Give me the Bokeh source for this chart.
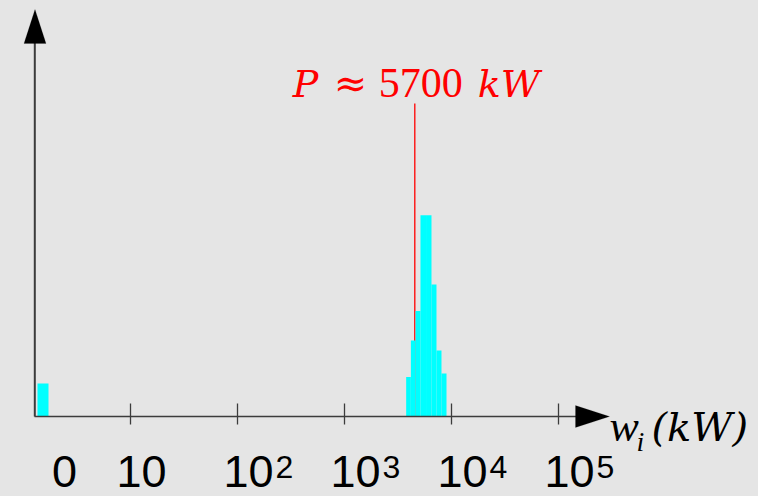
import numpy as np
from bokeh.plotting import figure
from bokeh.core.properties import value
from bokeh.models import (Range1d, FixedTicker, ColumnDataSource, LabelSet,
                          PolyAnnotation)
from bokeh.embed import file_html
from bokeh.resources import INLINE

# ---------------- data ----------------
BIN_EDGES_KW = [3770, 4170, 4610, 5130, 5780, 6500, 7240, 8060, 8980]
BIN_COUNTS = [12, 23, 32, 61, 61, 40, 20, 13]
ZERO_COUNT = [10]
P_LINE_KW = 4540
P_TEXT = "5700"
TICK_DECADES = [1, 2, 3, 4, 5]
TICK_MAIN = ["10", "10", "10", "10", "10"]
TICK_EXP = ["", "2", "3", "4", "5"]
ZERO_LABEL = "0"
X_LABEL_VAR = "w"
X_LABEL_SUB = "i"
X_LABEL_UNIT = "(kW)"

# ---------------- layout ----------------
W, H = 758, 496
B = 8               # bottom panel taken by the (fixed-location) axis
BG = "#e5e5e5"
AXC = "#3c3c3c"
RED = "#ff0000"
PX_DEC = 107.0      # pixels per decade
X0_REF = 23.0       # canvas pixel of log10(w) = 0
AX_Y_REF = 416.0    # canvas pixel of count = 0
PX_CNT = 3.3        # pixels per count


def ux(ref_x):
    return (ref_x - X0_REF) / PX_DEC


def uy(ref_y):
    return (AX_Y_REF - ref_y) / PX_CNT


p = figure(width=W, height=H, output_backend="svg", toolbar_location=None,
           x_range=Range1d(ux(0), ux(W)),
           y_range=Range1d(uy(H - B), uy(0)),
           y_axis_location=None,
           min_border_left=0, min_border_right=0, min_border_top=0,
           min_border_bottom=B)
p.background_fill_color = BG
p.border_fill_color = BG
p.outline_line_color = None
p.grid.visible = False

# x axis drawn at count = 0, ticks only, line bounded to the arrow
ax = p.xaxis[0]
ax.fixed_location = 0
ax.ticker = FixedTicker(ticks=TICK_DECADES, minor_ticks=[])
ax.major_label_overrides = {t: "" for t in TICK_DECADES}
ax.major_label_text_font_size = "0px"
ax.major_label_standoff = 0
ax.bounds = (ux(34.3), ux(576))
ax.axis_line_color = AXC
ax.axis_line_width = 1.5
ax.major_tick_in = 13
ax.major_tick_out = 8
ax.major_tick_line_color = AXC
ax.major_tick_line_width = 1.3
ax.minor_tick_line_color = None

# y axis line
yx = ux(34.3)
p.segment(x0=[yx], y0=[0], x1=[yx], y1=[uy(42)], line_color=AXC, line_width=2)

# red marker line (behind bars)
px = np.log10(P_LINE_KW)
p.segment(x0=[px], y0=[0], x1=[px], y1=[uy(103)], line_color=RED, line_width=1.3)

# histogram bars
edges = np.array(BIN_EDGES_KW, dtype=float)
src = ColumnDataSource(dict(left=np.log10(edges[:-1]), right=np.log10(edges[1:]),
                            top=BIN_COUNTS))
p.quad(left="left", right="right", bottom=0, top="top", source=src,
       fill_color="#00ffff", line_color=None)
# zero-value bar
p.quad(left=[ux(37)], right=[ux(48)], bottom=[0], top=ZERO_COUNT,
       fill_color="#00ffff", line_color=None)

# arrow heads
p.add_layout(PolyAnnotation(xs=[ux(575), ux(609), ux(575)], ys=[uy(405), uy(416), uy(427)],
                            fill_color="black", fill_alpha=1, line_color="black", line_width=0.5))
p.add_layout(PolyAnnotation(xs=[ux(23.5), ux(34.5), ux(45.5)], ys=[uy(43), uy(9), uy(43)],
                            fill_color="black", fill_alpha=1, line_color="black", line_width=0.5))

# tick labels
lab_src = ColumnDataSource(dict(x=[ux(65.4)] + TICK_DECADES, text=[ZERO_LABEL] + TICK_MAIN))
p.add_layout(LabelSet(x="x", y=uy(486), text="text", source=lab_src, x_offset=-14,
                      text_align="left", text_baseline="alphabetic",
                      text_font=value("Liberation Sans"), text_font_size=value("45px"),
                      text_color="black"))
sup_src = ColumnDataSource(dict(x=TICK_DECADES[1:], text=TICK_EXP[1:]))
p.add_layout(LabelSet(x="x", y=uy(477), text="text", source=sup_src, x_offset=38,
                      text_align="left", text_baseline="alphabetic",
                      text_font=value("Liberation Sans"), text_font_size=value("32px"),
                      text_color="black"))

# red annotation  "P ≈ 5700 kW"
red_src = ColumnDataSource(dict(
    x=[px] * 4,
    y=[uy(96)] * 4,
    text=["P", "\u2248", P_TEXT, "kW"],
    off=[-122, -81, -36, 63],
    font=["DejaVu Serif", "DejaVu Serif", "Liberation Serif", "DejaVu Serif"],
    style=["italic", "normal", "normal", "italic"],
    size=["38px", "40px", "42px", "38px"],
))
p.add_layout(LabelSet(x="x", y="y", text="text", x_offset="off", source=red_src,
                      text_align="left", text_baseline="alphabetic",
                      text_font="font", text_font_style="style", text_font_size="size",
                      text_color=RED))

# x axis label  "w_i(kW)"
xl_src = ColumnDataSource(dict(
    x=[ux(609), ux(636), ux(651)],
    y=[uy(440), uy(450), uy(440)],
    text=[X_LABEL_VAR, X_LABEL_SUB, X_LABEL_UNIT],
    font=["Liberation Serif", "Liberation Serif", "DejaVu Serif"],
    size=["44px", "28px", "40px"],
))
p.add_layout(LabelSet(x="x", y="y", text="text", source=xl_src,
                      text_align="left", text_baseline="alphabetic",
                      text_font="font", text_font_style=value("italic"),
                      text_font_size="size", text_color="black"))

html = file_html(p, INLINE)
html = html.replace("<head>", "<head><style>html,body{background:%s;}</style>" % BG, 1)
open("out.html", "w").write(html)
